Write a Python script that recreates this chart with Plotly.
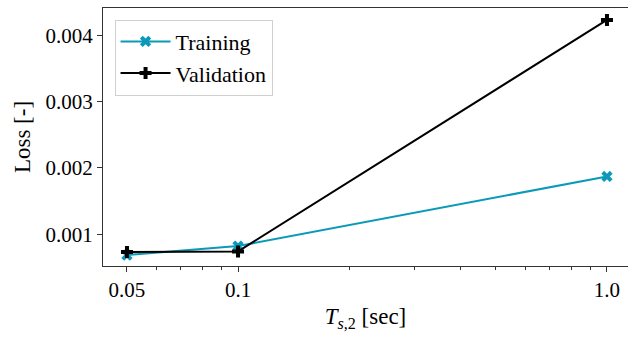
import plotly.graph_objects as go

ts = [0.05, 0.1, 1.0]
train_loss = [0.000685, 0.00082, 0.00187]
val_loss = [0.00073, 0.00074, 0.00423]
xtick_vals = [0.05, 0.1, 1.0]
xtick_text = ["0.05", "0.1", "1.0"]
ytick_vals = [0.001, 0.002, 0.003, 0.004]
ytick_text = ["0.001", "0.002", "0.003", "0.004"]
minor_vals = [0.06, 0.07, 0.08, 0.09, 0.2, 0.3, 0.4, 0.5, 0.6, 0.7, 0.8, 0.9]

FONT = "Times New Roman"
CYAN = "#0a9ab8"

fig = go.Figure()
fig.add_trace(go.Scatter(x=ts, y=train_loss, mode="lines+markers", name="Training",
                         line=dict(color=CYAN, width=2),
                         marker=dict(symbol="x", size=10, color=CYAN)))
fig.add_trace(go.Scatter(x=ts, y=val_loss, mode="lines+markers", name="Validation",
                         line=dict(color="black", width=2),
                         marker=dict(symbol="cross", size=10, color="black")))

tickfont = dict(family=FONT, size=21, color="black", weight="normal", style="normal")
fig.update_layout(
    width=628, height=337,
    margin=dict(l=103, r=0, t=8, b=71),
    paper_bgcolor="white", plot_bgcolor="white",
    font=dict(family=FONT, size=21, color="black"),
    showlegend=True,
    legend=dict(x=0.022, y=0.955, xanchor="left", yanchor="top",
                bgcolor="rgba(255,255,255,0.8)", bordercolor="#d0d0d0", borderwidth=1,
                font=dict(family=FONT, size=22, color="black", weight="normal"), itemwidth=50, tracegroupgap=0),
)
fig.update_xaxes(type="log", range=[-1.366, 0.057],
                 tickvals=xtick_vals, ticktext=xtick_text, tickfont=tickfont,
                 ticks="outside", ticklen=5, tickwidth=1, tickcolor="#333",
                 showline=True, linecolor="#333", linewidth=1.2, mirror=True,
                 showgrid=False, zeroline=False,
                 minor=dict(tickvals=minor_vals, ticks="outside", ticklen=3, tickcolor="#333", showgrid=False),
                 title=dict(text="<i>T</i><sub><i>s</i>,2</sub> [sec]", font=dict(family=FONT, size=23, color="black"), standoff=6))
fig.update_yaxes(range=[0.00052, 0.00441],
                 tickvals=ytick_vals, ticktext=ytick_text, tickfont=tickfont,
                 ticks="outside", ticklen=5, tickwidth=1, tickcolor="#333",
                 showline=True, linecolor="#333", linewidth=1.2, mirror=True,
                 showgrid=False, zeroline=False,
                 title=dict(text="Loss [-]", font=dict(family=FONT, size=23, color="black"), standoff=8))

fig.write_html("out.html")
